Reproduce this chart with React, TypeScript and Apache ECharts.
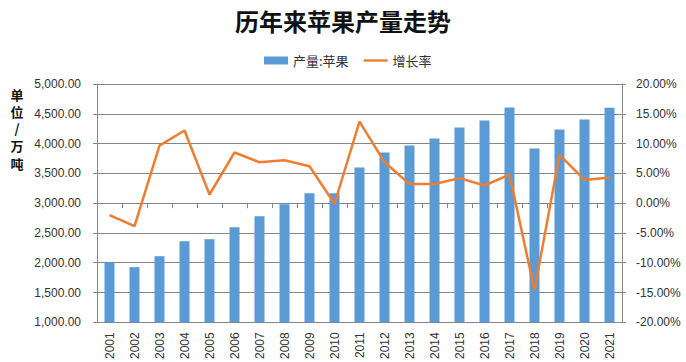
import React, { useEffect, useRef } from "react";
import * as echarts from "echarts";

const years = ["2001","2002","2003","2004","2005","2006","2007","2008","2009","2010","2011","2012","2013","2014","2015","2016","2017","2018","2019","2020","2021"];
const output = [2002,1926,2110,2361,2395,2596,2780,2980,3165,3168,3600,3851,3968,4085,4269,4386,4604,3918,4236,4403,4600];
const growth = [-2.0,-3.85,9.65,12.2,1.45,8.5,6.86,7.2,6.2,-0.1,13.7,6.9,3.2,3.2,4.2,2.96,4.8,-14.6,8.1,3.9,4.3];
const seriesNames = ["产量:苹果", "增长率"];
const titleText = "历年来苹果产量走势";
const unitChars = ["单", "位", "/", "万", "吨"];

export default function App() {
  const ref = useRef<HTMLDivElement>(null);
  useEffect(() => {
    const chart = echarts.init(ref.current!, null, { renderer: "svg" });
    const axisColor = "#868686";
    const labelColor = "#333";
    chart.setOption({
      animation: false,
      title: {
        text: titleText,
        left: "center",
        top: 3,
        textStyle: { fontFamily: "Noto Sans CJK SC", fontSize: 24, fontWeight: "bold", color: "#111" },
      },
      legend: {
        left: 259,
        top: 49,
        itemWidth: 24,
        itemHeight: 8,
        itemGap: 15,
        textStyle: { fontFamily: "Noto Sans CJK SC", fontSize: 13, color: labelColor },
        data: [
          { name: seriesNames[0], icon: "rect" },
          { name: seriesNames[1], icon: "path://M0,0h26v2.6h-26z" },
        ],
      },
      graphic: unitChars.map((c, i) => ({
        type: "text",
        x: 17,
        y: 94 + i * 17.3,
        style: {
          text: c,
          font: "bold 13px 'Noto Sans CJK SC'",
          fill: "#111",
          textAlign: "center",
          textVerticalAlign: "middle",
        },
      })),
      grid: { left: 97, right: 64, top: 84, bottom: 39 },
      xAxis: {
        type: "category",
        data: years,
        boundaryGap: true,
        axisLine: { lineStyle: { color: axisColor } },
        axisTick: { show: true, length: 5, lineStyle: { color: axisColor } },
        axisLabel: { rotate: 90, margin: 10, fontSize: 12, fontFamily: "Liberation Sans", color: labelColor },
      },
      yAxis: [
        {
          type: "value",
          min: 1000,
          max: 5000,
          interval: 500,
          axisLine: { show: true, lineStyle: { color: axisColor } },
          axisTick: { show: true, length: 4, lineStyle: { color: axisColor } },
          splitLine: { show: true, lineStyle: { color: axisColor, width: 1 } },
          axisLabel: {
            margin: 16,
            fontSize: 12,
            fontFamily: "Liberation Sans",
            color: labelColor,
            formatter: (v: number) => v.toLocaleString("en-US", { minimumFractionDigits: 2, maximumFractionDigits: 2 }),
          },
        },
        {
          type: "value",
          min: -20,
          max: 20,
          interval: 5,
          position: "right",
          axisLine: { show: true, lineStyle: { color: axisColor } },
          axisTick: { show: true, length: 4, lineStyle: { color: axisColor } },
          splitLine: { show: false },
          axisLabel: {
            margin: 14,
            fontSize: 12,
            fontFamily: "Liberation Sans",
            color: labelColor,
            formatter: (v: number) => v.toFixed(2) + "%",
          },
        },
      ],
      series: [
        {
          name: seriesNames[0],
          type: "bar",
          data: output,
          barWidth: 10,
          itemStyle: { color: "#5B9BD5" },
        },
        {
          name: seriesNames[1],
          type: "line",
          yAxisIndex: 1,
          data: growth,
          symbol: "none",
          lineStyle: { color: "#ED7D31", width: 2.5 },
          itemStyle: { color: "#ED7D31" },
        },
      ],
    });
    return () => chart.dispose();
  }, []);
  return <div ref={ref} style={{ width: 686, height: 362, position: "absolute", left: 0, top: 0 }} />;
}
